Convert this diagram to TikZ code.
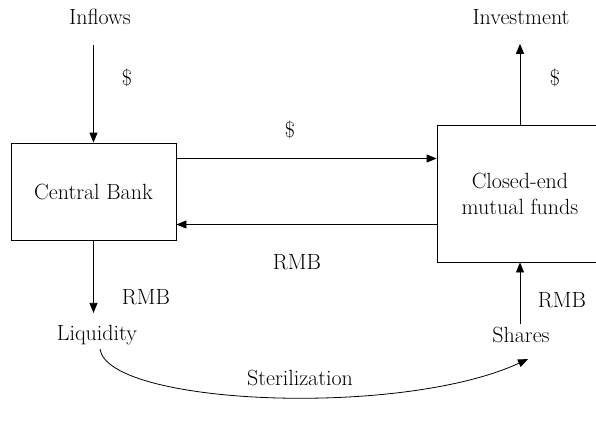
\documentclass[tikz,border=0pt]{standalone}
\usetikzlibrary{positioning,arrows.meta}
\tikzset{
  lbl/.style={inner sep=0pt, font=\fontsize{22}{26}\selectfont},
  bankbox/.style={draw, thick, inner sep=2pt, align=center, font=\fontsize{22}{26}\selectfont},
  flow/.style={thick, -{Triangle[length=10pt,width=8pt]}}
}
\begin{document}
\begin{tikzpicture}[x=1pt,y=-1pt]
\path[use as bounding box, clip] (0,0) rectangle (596,424);
% boxes
\node (cb) [bankbox, minimum width=165pt, minimum height=97pt] at (93.5,191.5) {Central Bank};
\node (cemf) [bankbox, minimum width=166pt, minimum height=137pt] at (520,193.5) {Closed-end\\mutual funds};
% outer labels
\node (inflows) [lbl] at (100,17) {Inflows};
\node (invest) [lbl] at (521,17) {Investment};
\node (liq) [lbl] at (97,335) {Liquidity};
\node (shares) [lbl] at (521,335) {Shares};
% flows
\draw[flow, shorten <=20pt] (inflows.south -| cb.north) -- (cb.north);
\draw[flow, shorten >=19pt] (cemf.north) -- (invest.south -| cemf.north);
\draw[flow] ([yshift=33pt]cb.east) -- ([yshift=33pt]cb.east -| cemf.west);
\draw[flow] ([yshift=-33pt]cb.east -| cemf.west) -- ([yshift=-33pt]cb.east);
\draw[flow, shorten >=12pt] (cb.south) -- (liq.north -| cb.south);
\draw[flow, shorten <=3pt] (shares.north -| cemf.south) -- (cemf.south);
\draw[flow] ([xshift=3pt,yshift=-4pt]liq.south) .. controls (108,405) and (400,418) .. ([xshift=7pt,yshift=-16pt]shares.south);
% flow labels
\node (usd1) [lbl] at (127,78) {\$};
\node (usd2) [lbl] at (555,78) {\$};
\node (usd3) [lbl] at (290,130) {\$};
\node (rmb1) [lbl] at (297,262) {RMB};
\node (rmb2) [lbl] at (146,297) {RMB};
\node (rmb3) [lbl] at (562,300) {RMB};
\node (steril) [lbl] at (300,378) {Sterilization};
\end{tikzpicture}
\end{document}
